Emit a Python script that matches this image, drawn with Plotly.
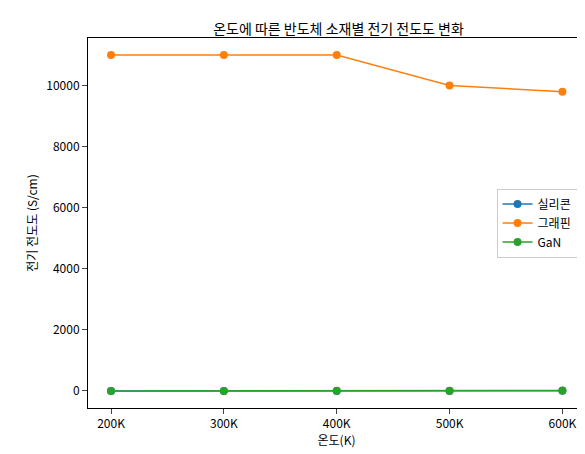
import plotly.graph_objects as go

temps = ["200K", "300K", "400K", "500K", "600K"]
silicon = [0.001, 0.01, 0.1, 1, 5]
graphene = [11000, 11000, 11000, 10000, 9800]
gan = [1, 2, 5, 10, 20]
yticks = [0, 2000, 4000, 6000, 8000, 10000]

xs = list(range(len(temps)))
fig = go.Figure()
for name, vals, col in [("실리콘", silicon, "#1f77b4"), ("그래핀", graphene, "#ff7f0e"), ("GaN", gan, "#2ca02c")]:
    fig.add_trace(go.Scatter(x=xs, y=vals, name=name, mode="lines+markers",
                             line=dict(color=col, width=1.5), marker=dict(size=8, color=col)))

font = "Noto Sans CJK KR"
fig.update_layout(
    width=585, height=454, paper_bgcolor="white", plot_bgcolor="white",
    margin=dict(l=80, r=8, t=30, b=54, autoexpand=False),
    font=dict(family=font, size=12, color="black"),
    title=dict(text="온도에 따른 반도체 소재별 전기 전도도 변화", x=0.565, xanchor="center", y=0.965, font=dict(size=14)),
    legend=dict(x=0.985, y=0.5, xanchor="right", yanchor="middle", bordercolor="#cccccc", borderwidth=1, bgcolor="white"),
    showlegend=True,
)
fig.update_xaxes(tickvals=xs, ticktext=temps, range=[-0.204, 4.2], showline=True, linecolor="black", mirror=True,
                 ticks="outside", showgrid=False, zeroline=False, automargin=False,
                 title=dict(text="온도(K)", standoff=6, font=dict(size=12)))
fig.update_yaxes(range=[-557, 11557], tickvals=yticks, ticktext=[str(v) for v in yticks], showline=True, linecolor="black",
                 mirror=True, ticks="outside", showgrid=False, zeroline=False, automargin=False,
                 title=dict(text="전기 전도도 (S/cm)", standoff=6, font=dict(size=12)))
fig.write_html("out.html")
